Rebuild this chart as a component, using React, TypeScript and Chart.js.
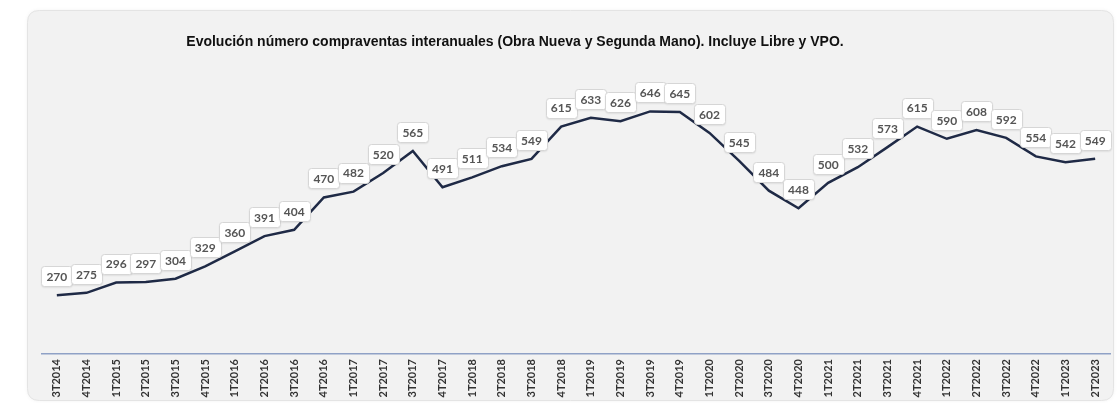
import React, { useEffect, useRef } from "react";
import { Chart, registerables } from "chart.js";

Chart.register(...registerables);

const TITLE = "Evolución número compraventas interanuales (Obra Nueva y Segunda Mano). Incluye Libre y VPO.";

const quarters: string[] = [
  "3T2014", "4T2014",
  "1T2015", "2T2015", "3T2015", "4T2015",
  "1T2016", "2T2016", "3T2016", "4T2016",
  "1T2017", "2T2017", "3T2017", "4T2017",
  "1T2018", "2T2018", "3T2018", "4T2018",
  "1T2019", "2T2019", "3T2019", "4T2019",
  "1T2020", "2T2020", "3T2020", "4T2020",
  "1T2021", "2T2021", "3T2021", "4T2021",
  "1T2022", "2T2022", "3T2022", "4T2022",
  "1T2023", "2T2023",
];

const salesThousands: number[] = [
  270, 275,
  296, 297, 304, 329,
  360, 391, 404, 470,
  482, 520, 565, 491,
  511, 534, 549, 615,
  633, 626, 646, 645,
  602, 545, 484, 448,
  500, 532, 573, 615,
  590, 608, 592, 554,
  542, 549,
];

const W = 1119;
const H = 403;

function roundRect(ctx: CanvasRenderingContext2D, x: number, y: number, w: number, h: number, r: number) {
  ctx.beginPath();
  ctx.moveTo(x + r, y);
  ctx.lineTo(x + w - r, y);
  ctx.quadraticCurveTo(x + w, y, x + w, y + r);
  ctx.lineTo(x + w, y + h - r);
  ctx.quadraticCurveTo(x + w, y + h, x + w - r, y + h);
  ctx.lineTo(x + r, y + h);
  ctx.quadraticCurveTo(x, y + h, x, y + h - r);
  ctx.lineTo(x, y + r);
  ctx.quadraticCurveTo(x, y, x + r, y);
  ctx.closePath();
}

const cardPlugin = {
  id: "card",
  beforeDraw(chart: any) {
    const ctx = chart.ctx as CanvasRenderingContext2D;
    ctx.save();
    ctx.fillStyle = "#ffffff";
    ctx.fillRect(0, 0, W, H);
    ctx.shadowColor = "rgba(0,0,0,0.06)";
    ctx.shadowBlur = 4;
    roundRect(ctx, 27.5, 10.5, 1086, 390, 12);
    ctx.fillStyle = "#f2f2f2";
    ctx.fill();
    ctx.shadowColor = "transparent";
    ctx.strokeStyle = "#e4e4e4";
    ctx.lineWidth = 1;
    ctx.stroke();
    ctx.fillStyle = "#111111";
    ctx.font = "bold 14px 'Liberation Sans', Arial, sans-serif";
    ctx.textAlign = "center";
    ctx.textBaseline = "middle";
    ctx.fillText(TITLE, 515, 42);
    ctx.restore();
  },
};

const labelPlugin = {
  id: "valueLabels",
  afterDatasetsDraw(chart: any) {
    const ctx = chart.ctx as CanvasRenderingContext2D;
    const meta = chart.getDatasetMeta(0);
    const data = chart.data.datasets[0].data as number[];
    ctx.save();
    ctx.font = "bold 12px Lato, 'Open Sans', sans-serif";
    ctx.textAlign = "center";
    ctx.textBaseline = "middle";
    meta.data.forEach((pt: any, i: number) => {
      const text = String(data[i]);
      const cx = pt.x;
      const cy = pt.y - 19;
      const bw = 31;
      const bh = 20;
      ctx.shadowColor = "rgba(0,0,0,0.12)";
      ctx.shadowBlur = 2;
      ctx.shadowOffsetY = 1;
      roundRect(ctx, Math.round(cx - bw / 2) + 0.5, Math.round(cy - bh / 2) + 0.5, bw, bh, 3);
      ctx.fillStyle = "#ffffff";
      ctx.fill();
      ctx.shadowColor = "transparent";
      ctx.strokeStyle = "#d6d6d6";
      ctx.lineWidth = 1;
      ctx.stroke();
      ctx.fillStyle = "#555555";
      ctx.fillText(text, cx, cy + 1);
    });
    ctx.restore();
  },
};

export default function App() {
  const ref = useRef<HTMLCanvasElement | null>(null);

  useEffect(() => {
    if (!ref.current) return;
    const chart = new Chart(ref.current, {
      type: "line",
      data: {
        labels: quarters,
        datasets: [
          {
            data: salesThousands,
            borderColor: "#1f2a46",
            borderWidth: 2.5,
            pointRadius: 0,
            tension: 0,
            fill: false,
          },
        ],
      },
      options: {
        responsive: false,
        animation: false,
        layout: { padding: { left: 42, right: 9, top: 85, bottom: 0 } },
        plugins: {
          legend: { display: false },
          title: { display: false },
          tooltip: { enabled: false },
        },
        scales: {
          x: {
            offset: true,
            grid: { display: false, drawTicks: false },
            border: { display: true, color: "#8fa1c6", width: 1.5 },
            ticks: {
              autoSkip: false,
              minRotation: 90,
              maxRotation: 90,
              padding: 5,
              color: "#333333",
              font: { family: "Lato, 'Open Sans', sans-serif", size: 11, weight: "bold" },
            },
            afterFit: (scale: any) => {
              scale.height = 49;
            },
          },
          y: {
            display: false,
            min: 150,
            max: 700,
          },
        },
      },
      plugins: [cardPlugin, labelPlugin],
    });
    return () => chart.destroy();
  }, []);

  return (
    <div style={{ position: "absolute", left: 0, top: 0, width: W, height: H }}>
      <canvas ref={ref} width={W} height={H} style={{ display: "block", width: W, height: H }} />
    </div>
  );
}
